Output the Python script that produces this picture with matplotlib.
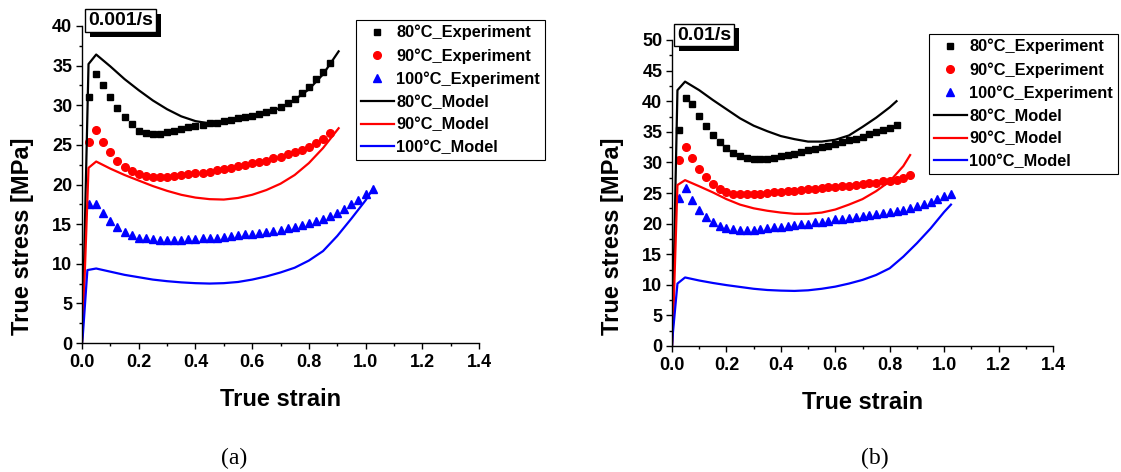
import matplotlib
matplotlib.use("Agg")
import matplotlib.pyplot as plt
import matplotlib.patheffects as pe
from matplotlib.ticker import MultipleLocator, FormatStrFormatter

plt.rcParams['font.family'] = ['Liberation Sans', 'DejaVu Sans']
plt.rcParams['font.weight'] = 'bold'

# ---------------- data ----------------
strain_exp = [0.025, 0.05, 0.075, 0.10, 0.125, 0.15, 0.175, 0.20, 0.225, 0.25,
              0.275, 0.30, 0.325, 0.35, 0.375, 0.40, 0.425, 0.45, 0.475, 0.50,
              0.525, 0.55, 0.575, 0.60, 0.625, 0.65, 0.675, 0.70, 0.725, 0.75,
              0.775, 0.80, 0.825, 0.85, 0.875, 0.90, 0.925, 0.95, 0.975, 1.00, 1.025]

# (a) 0.001/s experiments
a80_exp = [31.0, 33.9, 32.6, 31.1, 29.6, 28.5, 27.6, 26.8, 26.5, 26.4, 26.4, 26.6, 26.8, 27.0,
           27.2, 27.4, 27.5, 27.7, 27.8, 28.0, 28.2, 28.4, 28.5, 28.7, 28.9, 29.1, 29.4, 29.8,
           30.3, 30.8, 31.5, 32.3, 33.3, 34.2, 35.3]
a90_exp = [25.3, 26.9, 25.4, 24.1, 23.0, 22.2, 21.7, 21.3, 21.1, 21.0, 21.0, 21.0, 21.1, 21.2,
           21.3, 21.4, 21.5, 21.6, 21.8, 22.0, 22.1, 22.3, 22.5, 22.7, 22.8, 23.0, 23.3, 23.5,
           23.8, 24.1, 24.4, 24.7, 25.2, 25.8, 26.5]
a100_exp = [17.6, 17.6, 16.4, 15.4, 14.6, 14.0, 13.6, 13.3, 13.2, 13.1, 13.0, 13.0, 13.0, 13.0,
            13.1, 13.1, 13.2, 13.2, 13.3, 13.4, 13.5, 13.6, 13.7, 13.8, 13.9, 14.0, 14.1, 14.3,
            14.5, 14.7, 14.9, 15.1, 15.4, 15.7, 16.0, 16.4, 16.9, 17.5, 18.0, 18.8, 19.4]

# (a) 0.001/s models
a80_mod_x = [0, 0.004, 0.023, 0.05, 0.10, 0.15, 0.20, 0.25, 0.30, 0.35, 0.40, 0.45, 0.50,
             0.55, 0.60, 0.65, 0.70, 0.75, 0.80, 0.85, 0.905]
a80_mod_y = [0, 5, 35.2, 36.4, 34.9, 33.3, 31.9, 30.6, 29.5, 28.6, 28.0, 27.7, 27.8,
             28.1, 28.5, 29.0, 29.7, 30.7, 32.0, 33.9, 36.8]
a90_mod_x = [0, 0.004, 0.023, 0.05, 0.10, 0.15, 0.20, 0.25, 0.30, 0.35, 0.40, 0.45, 0.50,
             0.55, 0.60, 0.65, 0.70, 0.75, 0.80, 0.85, 0.905]
a90_mod_y = [0, 3, 22.1, 22.9, 22.0, 21.2, 20.5, 19.8, 19.2, 18.7, 18.35, 18.15, 18.1,
             18.3, 18.7, 19.3, 20.1, 21.2, 22.7, 24.6, 27.1]
a100_mod_x = [0, 0.003, 0.019, 0.05, 0.10, 0.15, 0.20, 0.25, 0.30, 0.35, 0.40, 0.45, 0.50,
              0.55, 0.60, 0.65, 0.70, 0.75, 0.80, 0.85, 0.90, 0.95, 1.00, 1.027]
a100_mod_y = [0, 1, 9.2, 9.4, 9.0, 8.6, 8.3, 8.0, 7.8, 7.65, 7.55, 7.5, 7.55,
              7.7, 8.0, 8.4, 8.9, 9.5, 10.4, 11.6, 13.5, 15.7, 18.0, 19.5]

# (b) 0.01/s experiments
b80_exp = [35.3, 40.6, 39.5, 37.6, 36.0, 34.5, 33.3, 32.4, 31.6, 31.1, 30.8, 30.5, 30.5, 30.6,
           30.8, 31.0, 31.2, 31.4, 31.7, 32.0, 32.2, 32.5, 32.7, 33.0, 33.3, 33.6, 33.9, 34.2,
           34.6, 34.9, 35.3, 35.7, 36.1]
b90_exp = [30.4, 32.5, 30.8, 29.0, 27.6, 26.5, 25.7, 25.2, 24.9, 24.8, 24.8, 24.8, 24.9, 25.0,
           25.1, 25.2, 25.3, 25.4, 25.5, 25.6, 25.7, 25.8, 25.9, 26.0, 26.1, 26.2, 26.3, 26.4,
           26.6, 26.7, 26.9, 27.0, 27.2, 27.4, 27.9]
b100_exp = [24.2, 25.8, 23.9, 22.3, 21.0, 20.2, 19.6, 19.2, 19.1, 19.0, 19.0, 19.0, 19.1, 19.2,
            19.4, 19.5, 19.6, 19.7, 19.9, 20.0, 20.2, 20.3, 20.5, 20.7, 20.8, 20.9, 21.1, 21.3,
            21.4, 21.6, 21.7, 21.9, 22.1, 22.3, 22.6, 22.9, 23.2, 23.6, 24.0, 24.5, 24.9]

# (b) 0.01/s models
b80_mod_x = [0, 0.003, 0.02, 0.048, 0.10, 0.15, 0.20, 0.25, 0.30, 0.35, 0.40, 0.45, 0.50,
             0.55, 0.60, 0.65, 0.70, 0.75, 0.80, 0.825]
b80_mod_y = [0, 5, 41.8, 43.2, 41.8, 40.2, 38.7, 37.2, 36.0, 35.1, 34.3, 33.8, 33.4,
             33.4, 33.7, 34.4, 35.8, 37.3, 39.0, 40.0]
b90_mod_x = [0, 0.005, 0.02, 0.048, 0.10, 0.15, 0.20, 0.25, 0.30, 0.35, 0.40, 0.45, 0.50,
             0.55, 0.60, 0.65, 0.70, 0.75, 0.80, 0.85, 0.875]
b90_mod_y = [0, 5, 26.3, 27.1, 26.1, 25.1, 24.0, 23.1, 22.5, 22.1, 21.8, 21.6, 21.6,
             21.8, 22.3, 23.1, 24.0, 25.3, 26.9, 29.4, 31.2]
b100_mod_x = [0, 0.003, 0.02, 0.048, 0.10, 0.15, 0.20, 0.25, 0.30, 0.35, 0.40, 0.45, 0.50,
              0.55, 0.60, 0.65, 0.70, 0.75, 0.80, 0.85, 0.90, 0.95, 1.00, 1.025]
b100_mod_y = [0, 2, 10.2, 11.2, 10.7, 10.3, 9.95, 9.65, 9.35, 9.15, 9.05, 9.0, 9.1,
              9.35, 9.7, 10.2, 10.8, 11.6, 12.7, 14.6, 16.8, 19.2, 21.9, 23.1]

exp_labels = ['80\u00b0C_Experiment', '90\u00b0C_Experiment', '100\u00b0C_Experiment']
mod_labels = ['80\u00b0C_Model', '90\u00b0C_Model', '100\u00b0C_Model']
rate_labels = ['0.001/s', '0.01/s']
panel_labels = ['(a)', '(b)']
colors = ['#000000', '#ff0000', '#0000ff']
markers = ['s', 'o', '^']
msizes = [5, 5.5, 6]

# ---------------- figure ----------------
fig = plt.figure(figsize=(11.21, 4.72), dpi=100)
ax_a = fig.add_axes([82/1121, 1-343/472, 397/1121, 317/472])
ax_b = fig.add_axes([672/1121, 1-346/472, 381/1121, 306/472])

panels = [
    (ax_a, [a80_exp, a90_exp, a100_exp],
     [(a80_mod_x, a80_mod_y), (a90_mod_x, a90_mod_y), (a100_mod_x, a100_mod_y)], 40),
    (ax_b, [b80_exp, b90_exp, b100_exp],
     [(b80_mod_x, b80_mod_y), (b90_mod_x, b90_mod_y), (b100_mod_x, b100_mod_y)], 50),
]

legend_anchor = [(356/1121, 1-20/472), (929/1121, 1-34/472)]
rate_pos = [(88/1121, 1-20.5/472), (677/1121, 1-35/472)]
panel_pos = [(234/1121, 1-458/472), (875/1121, 1-458/472)]
ylabel_x = [34/1121, 624/1121]

for i, (ax, exps, mods, ymax) in enumerate(panels):
    handles = []
    for j, ys in enumerate(exps):
        h, = ax.plot(strain_exp[:len(ys)], ys, linestyle='none', marker=markers[j],
                     ms=msizes[j], color=colors[j], label=exp_labels[j])
        handles.append(h)
    for j, (mx, my) in enumerate(mods):
        h, = ax.plot(mx, my, color=colors[j], lw=1.6, label=mod_labels[j])
        handles.append(h)

    ax.set_xlim(0, 1.4)
    ax.set_ylim(0, ymax)
    ax.xaxis.set_major_locator(MultipleLocator(0.2))
    ax.xaxis.set_minor_locator(MultipleLocator(0.1))
    ax.xaxis.set_major_formatter(FormatStrFormatter('%.1f'))
    ax.yaxis.set_major_locator(MultipleLocator(5))
    ax.yaxis.set_minor_locator(MultipleLocator(2.5))
    for s in ['top', 'right']:
        ax.spines[s].set_visible(False)
    for s in ['left', 'bottom']:
        ax.spines[s].set_linewidth(1.0)
    ax.tick_params(which='major', direction='out', length=4.5, width=1.0,
                   labelsize=13)
    ax.tick_params(axis='x', which='major', pad=3.5)
    ax.tick_params(axis='y', which='major', pad=2.5)
    ax.tick_params(which='minor', direction='out', length=2.5, width=1.0)
    for lab in ax.get_xticklabels() + ax.get_yticklabels():
        lab.set_fontweight('bold')

    ax.set_xlabel('True strain', fontsize=17, fontweight='bold', labelpad=12)
    ax.set_ylabel('True stress [MPa]', fontsize=17, fontweight='bold')
    ax.yaxis.set_label_coords(ylabel_x[i], 0.5, transform=fig.transFigure)

    leg = fig.legend(handles=handles, loc='upper left', bbox_to_anchor=legend_anchor[i],
                     bbox_transform=fig.transFigure, frameon=True, fancybox=False,
                     edgecolor='black', framealpha=1, prop={'size': 11.8, 'weight': 'bold'},
                     handlelength=2.0, handletextpad=0.15, borderpad=0.3,
                     labelspacing=0.47, borderaxespad=0)
    leg.get_frame().set_linewidth(0.8)

    t = fig.text(rate_pos[i][0], rate_pos[i][1], rate_labels[i], fontsize=14,
                 fontweight='bold', ha='left', va='center',
                 bbox=dict(boxstyle='square,pad=0.15', facecolor='white',
                           edgecolor='black', linewidth=1.0))
    t.get_bbox_patch().set_path_effects([
        pe.SimplePatchShadow(offset=(3.5, -3.5), shadow_rgbFace='black', alpha=1.0),
        pe.Normal()])

    fig.text(panel_pos[i][0], panel_pos[i][1], panel_labels[i], fontsize=17,
             family='Liberation Serif', fontweight='normal', ha='center', va='center')

fig.savefig('out.png', dpi=100)
